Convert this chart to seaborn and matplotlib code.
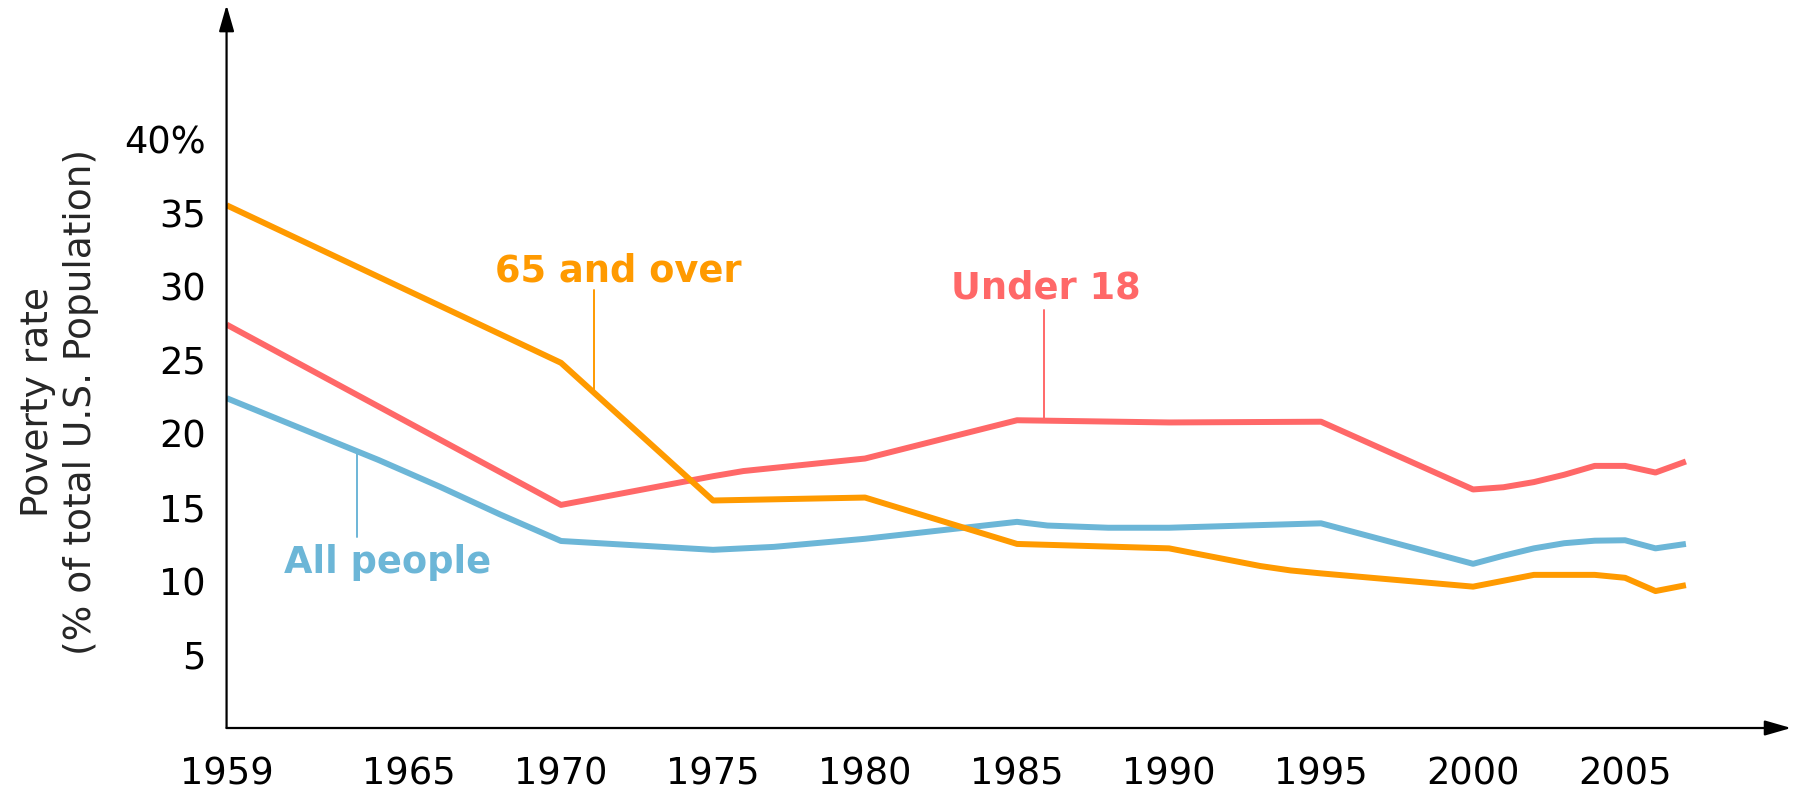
#!/usr/bin/env python3
"""
US poverty rate by age group, 1959-2007.
"""

import numpy as np
import pandas as pd
import matplotlib
matplotlib.use("Agg")
import matplotlib.pyplot as plt
import seaborn as sns

# --- data ----------------------------------------------------------------
years_all = [1959, 1964, 1966, 1968, 1970, 1975, 1977, 1980, 1985, 1986, 1988,
             1990, 1995, 2000, 2001, 2002, 2003, 2004, 2005, 2006, 2007]
rate_all = [22.4, 18.2, 16.4, 14.5, 12.7, 12.1, 12.3, 12.85, 14.0, 13.75, 13.6,
            13.6, 13.9, 11.15, 11.7, 12.2, 12.55, 12.72, 12.75, 12.2, 12.5]

years_u18 = [1959, 1970, 1975, 1976, 1980, 1985, 1990, 1995, 2000, 2001, 2002,
             2003, 2004, 2005, 2006, 2007]
rate_u18 = [27.4, 15.15, 17.1, 17.45, 18.3, 20.9, 20.75, 20.8, 16.2, 16.35, 16.7,
            17.2, 17.8, 17.8, 17.35, 18.1]

years_65 = [1959, 1970, 1975, 1980, 1985, 1990, 1991, 1992, 1993, 1994, 1995,
            2000, 2002, 2004, 2005, 2006, 2007]
rate_65 = [35.5, 24.8, 15.45, 15.65, 12.5, 12.2, 11.8, 11.4, 11.0, 10.7, 10.5,
           9.6, 10.4, 10.4, 10.2, 9.3, 9.7]

groups = ["All people", "Under 18", "65 and over"]
colors = {"All people": "#6cb6d7", "Under 18": "#ff6868", "65 and over": "#ff9a00"}

x_ticks = [1959, 1965, 1970, 1975, 1980, 1985, 1990, 1995, 2000, 2005]
y_ticks = [5, 10, 15, 20, 25, 30, 35, 40]
y_ticklabels = ["5", "10", "15", "20", "25", "30", "35", "40%"]

# label text position (year, value) and leader line (year, top value)
label_pos = {"All people": (1964.3, 10.55), "Under 18": (1985.95, 29.2),
             "65 and over": (1971.9, 30.3)}
leader_pos = {"All people": (1963.3, 13.0), "Under 18": (1985.9, 28.4),
              "65 and over": (1971.1, 29.75)}

df = pd.concat([
    pd.DataFrame({"year": years_all, "rate": rate_all, "group": "All people"}),
    pd.DataFrame({"year": years_u18, "rate": rate_u18, "group": "Under 18"}),
    pd.DataFrame({"year": years_65, "rate": rate_65, "group": "65 and over"}),
], ignore_index=True)

# --- plot -----------------------------------------------------------------
sns.set_theme(style="white")
plt.rcParams["font.family"] = ["DejaVu Sans"]

fig = plt.figure(figsize=(18.01, 7.92), dpi=100)
ax = fig.add_axes([0.1258, 0.0808, 0.8687, 0.9129])

sns.lineplot(data=df, x="year", y="rate", hue="group", palette=colors,
             hue_order=groups, estimator=None, sort=True, linewidth=4.3,
             legend=False, ax=ax)
for line in ax.get_lines():
    line.set_solid_joinstyle("round")
    line.set_solid_capstyle("butt")

ax.set_xlim(1959, 2010.46)
ax.set_ylim(0, 49.1)

ax.set_xticks(x_ticks)
ax.set_xticklabels([str(y) for y in x_ticks])
ax.set_yticks(y_ticks)
ax.set_yticklabels(y_ticklabels)
ax.tick_params(axis="both", direction="in", length=16, width=1.6,
               colors="black", labelsize=26.5)
ax.tick_params(axis="x", pad=20)
ax.tick_params(axis="y", pad=15)
ax.set_xlabel("")
ax.set_ylabel("")

for s in ax.spines.values():
    s.set_visible(False)

# axis lines with arrow heads
arrow = dict(arrowstyle="-|>,head_length=0.8,head_width=0.23", color="black",
             lw=1.6, shrinkA=0, shrinkB=0, mutation_scale=20)
ax.annotate("", xy=(1, 0), xytext=(0, 0), xycoords="axes fraction",
            textcoords="axes fraction", arrowprops=arrow, annotation_clip=False)
ax.annotate("", xy=(0, 1), xytext=(0, 0), xycoords="axes fraction",
            textcoords="axes fraction", arrowprops=arrow, annotation_clip=False)

# direct labels with leader lines
series = {"All people": (years_all, rate_all), "Under 18": (years_u18, rate_u18),
          "65 and over": (years_65, rate_65)}
for g in groups:
    tx, ty = label_pos[g]
    ax.text(tx, ty, g, color=colors[g], fontsize=26.5, fontweight="bold",
            ha="center", va="baseline")
    lx, ltop = leader_pos[g]
    yrs, vals = series[g]
    on_line = np.interp(lx, yrs, vals)
    ax.plot([lx, lx], [ltop, on_line], color=colors[g], lw=1.4)

fig.text(0.033, 0.492, "Poverty rate\n(% of total U.S. Population)",
         rotation=90, ha="center", va="center", multialignment="center",
         fontsize=27, linespacing=1.25)

fig.savefig("out.png", dpi=100)
plt.close(fig)
